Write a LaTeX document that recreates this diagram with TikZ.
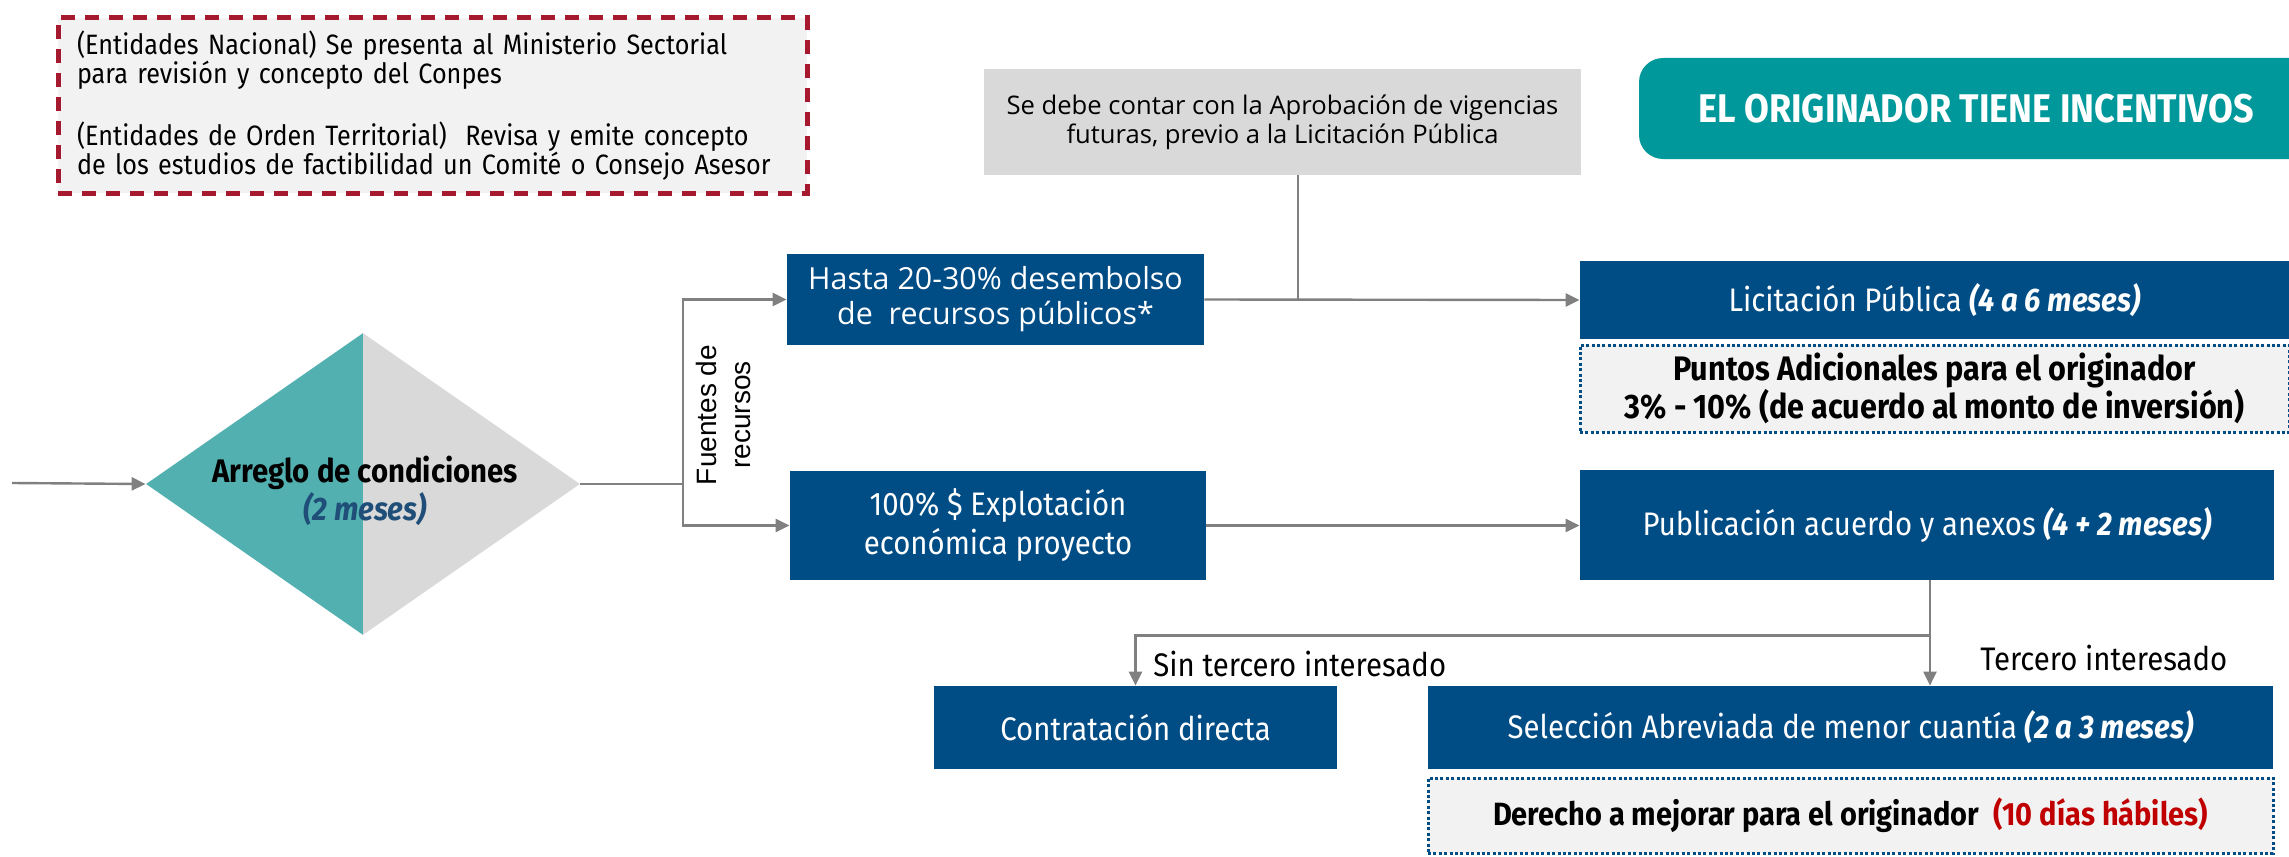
\documentclass[tikz,border=0pt]{standalone}
\usepackage{fontspec}
\setmainfont{Fira Sans}
\newfontfamily\cnd[FakeStretch=0.9]{Fira Sans}
\newfontfamily\wrk{Open Sans}
\newfontfamily\arl{Liberation Sans}
\usetikzlibrary{shapes.geometric,arrows.meta}
\definecolor{blueC}{HTML}{004C85}
\definecolor{tealH}{HTML}{00989A}
\definecolor{tealD}{HTML}{52B0B1}
\definecolor{greyD}{HTML}{D9D9D9}
\definecolor{greyL}{HTML}{F2F2F2}
\definecolor{redD}{HTML}{A6192E}
\definecolor{redT}{HTML}{C00000}
\definecolor{lineG}{HTML}{808080}
\definecolor{blueT}{HTML}{1F4E79}
\tikzset{
  bluebox/.style={fill=blueC, text=white, inner sep=0pt, align=center, font=\cnd\fontsize{16.3}{19.5}\selectfont},
  dotbox/.style={fill=greyL, draw=blueC, line width=1.5pt, dash pattern=on 1.5pt off 1.2pt, inner sep=0pt, align=center, font=\cnd\bfseries\fontsize{17}{17}\selectfont},
  conn/.style={draw=lineG, line width=1.2pt},
  arr/.style={conn, -{Triangle[length=7pt,width=6.5pt]}},
  lbl/.style={inner sep=0pt, font=\cnd\fontsize{16.3}{19}\selectfont}
}
\begin{document}
\begin{tikzpicture}[x=0.5pt,y=-0.5pt]
\useasboundingbox (0,0) rectangle (2289,856);
% red dashed note
\node[fill=greyL, draw=redD, line width=2.5pt, dash pattern=on 7pt off 5pt,
  minimum width=374.5pt, minimum height=87.5pt, text width=355.5pt, inner sep=0pt,
  align=left, font=\cnd\fontsize{14}{14.5}\selectfont] (note) at (432.5,105.5)
  {(Entidades Nacional) Se presenta al Ministerio Sectorial\\
   para revisión y concepto del Conpes\\[15pt]
   (Entidades de Orden Territorial) \ Revisa y emite concepto\\
   de los estudios de factibilidad un Comité o Consejo Asesor};
% grey top box
\node[fill=greyD, minimum width=298.5pt, minimum height=53pt, inner sep=0pt, align=center,
  font=\wrk\fontsize{12.8}{14.5}\selectfont] (vig) at (1282.5,122)
  {Se debe contar con la Aprobación de vigencias\\futuras, previo a la Licitación Pública};
% teal header
\begin{scope}
\clip (0,0) rectangle (2289,856);
\node[fill=tealH, rounded corners=12pt, minimum width=337pt, minimum height=50.5pt, inner sep=0pt,
  text=white, font=\cnd\bfseries\fontsize{20}{22}\selectfont] (hdr) at (1976,108.5)
  {EL ORIGINADOR TIENE INCENTIVOS};
\end{scope}
% diamond
\node[diamond, minimum width=217pt, minimum height=151pt, inner sep=0pt,
  path picture={\fill[tealD] (path picture bounding box.south west) rectangle (path picture bounding box.north);
                \fill[greyD] (path picture bounding box.south) rectangle (path picture bounding box.north east);}]
  (dia) at (363,484) {};
\node[align=center, inner sep=0pt, font=\cnd\bfseries\fontsize{16.3}{17}\selectfont] (diaT) at (365,491)
  {Arreglo de condiciones\\{\color{blueT}\itshape (2 meses)}};
\coordinate (start) at (12,483);
\draw[arr] (start) -- (dia.west);
% boxes
\node[bluebox, font=\wrk\fontsize{15.2}{17.5}\selectfont, minimum width=208.5pt, minimum height=45.5pt] (hasta) at (995.5,299.5)
  {Hasta 20-30\% desembolso\\de \ recursos públicos*};
\node[bluebox, minimum width=208pt, minimum height=54.5pt] (exp) at (998,525.5)
  {100\% \$ Explotación\\económica proyecto};
\node[bluebox, minimum width=354.5pt, minimum height=39pt] (lic) at (1934.5,300)
  {Licitación Pública {\bfseries\itshape (4 a 6 meses)}};
\node[dotbox, minimum width=354.5pt, minimum height=43.5pt] (pts) at (1934.5,388.5)
  {Puntos Adicionales para el originador\\3\% - 10\% (de acuerdo al monto de inversión)};
\node[bluebox, minimum width=347pt, minimum height=55pt] (pub) at (1927,525)
  {Publicación acuerdo y anexos {\bfseries\itshape (4 + 2 meses)}};
\node[bluebox, minimum width=201.5pt, minimum height=41.5pt] (contr) at (1135.5,727.5)
  {Contratación directa};
\node[bluebox, minimum width=422.5pt, minimum height=41.5pt] (sel) at (1850.5,727.5)
  {Selección Abreviada de menor cuantía {\bfseries\itshape (2 a 3 meses)}};
\node[dotbox, font=\cnd\bfseries\fontsize{16.1}{17}\selectfont, minimum width=422.5pt, minimum height=37.5pt] (der) at (1850.5,815.5)
  {Derecho a mejorar para el originador \ {\color{redT}(10 días hábiles)}};
% fork from diamond
\coordinate (fork) at (683,484);
\draw[conn] (dia.east) -- (fork);
\draw[arr] (fork) |- (hasta.west);
\draw[arr] (fork) |- (exp.west);
\node[rotate=90, align=center, inner sep=0pt, font=\arl\fontsize{14}{17}\selectfont] (fuentes) at (723,415)
  {Fuentes de\\recursos};
% top connectors
\draw[arr] (hasta.east) -- (lic.west);
\coordinate (vigB) at ([xshift=7.75pt]vig.south);
\draw[conn] (vigB) -- (vigB |- hasta.east);
\draw[arr] (exp.east) -- (exp.east -| pub.west);
% bottom split
\coordinate (split) at ([xshift=1.5pt,yshift=-27.5pt]pub.south);
\draw[conn] ([xshift=1.5pt]pub.south) -- (split);
\draw[arr] (split) -- (split |- sel.north);
\draw[arr] (split) -| (contr.north);
\node[lbl, anchor=west] (sin) at (1153,664) {Sin tercero interesado};
\node[lbl, anchor=west] (ter) at (1980,658) {Tercero interesado};
\end{tikzpicture}
\end{document}
